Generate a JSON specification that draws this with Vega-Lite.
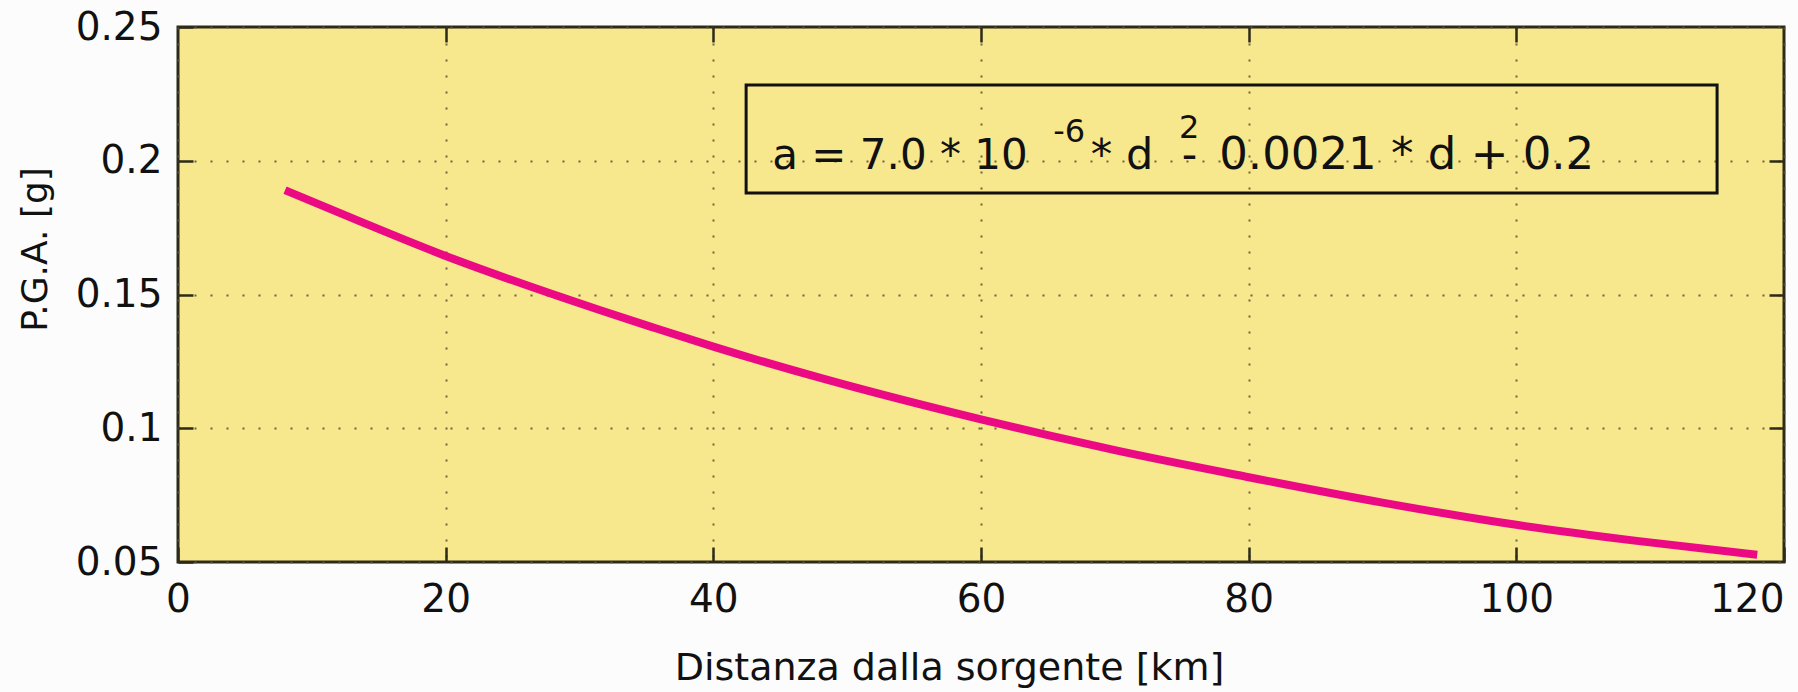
{
  "$schema": "https://vega.github.io/schema/vega-lite/v6.json",
  "width": 1606,
  "height": 535,
  "autosize": "none",
  "padding": {"left": 178, "top": 27, "right": 14, "bottom": 130},
  "background": "#fcfcfc",
  "config": {
    "view": {"fill": "#F7E78D", "stroke": "#2d2a1a", "strokeWidth": 3},
    "axis": {
      "labelFont": "DejaVu Sans",
      "labelFontSize": 39,
      "labelColor": "#111111",
      "titleFont": "DejaVu Sans",
      "titleFontWeight": "normal",
      "titleColor": "#111111",
      "domain": false,
      "tickColor": "#2e2a18",
      "tickWidth": 2.5,
      "tickSize": -15,
      "gridColor": "#5e5638",
      "gridWidth": 2,
      "gridDash": [2, 14],
      "gridOpacity": 0.9
    }
  },
  "data": {
    "values": [
      {"d": 8, "pga": 0.189},
      {"d": 14, "pga": 0.1765},
      {"d": 19.8, "pga": 0.1648},
      {"d": 25, "pga": 0.1553},
      {"d": 31.5, "pga": 0.1442},
      {"d": 35.3, "pga": 0.138},
      {"d": 40, "pga": 0.1305},
      {"d": 48, "pga": 0.1188},
      {"d": 60, "pga": 0.1033},
      {"d": 65, "pga": 0.0974},
      {"d": 70, "pga": 0.0918},
      {"d": 80, "pga": 0.0817},
      {"d": 90, "pga": 0.0722},
      {"d": 100, "pga": 0.0639},
      {"d": 109, "pga": 0.0579},
      {"d": 118, "pga": 0.0527}
    ]
  },
  "resolve": {"axis": {"x": "independent", "y": "independent"}},
  "layer": [
    {
      "mark": {"type": "line", "color": "#EC0A84", "strokeWidth": 8, "interpolate": "monotone", "strokeCap": "butt"},
      "encoding": {
        "x": {
          "field": "d", "type": "quantitative",
          "scale": {"domain": [0, 120], "nice": false, "zero": false},
          "axis": {
            "orient": "bottom",
            "values": [0, 20, 40, 60, 80, 100, 120],
            "grid": true,
            "labelPadding": 33,
            "labelAlign": {"condition": {"test": "datum.value == 120", "value": "right"}, "value": "center"},
            "title": "Distanza dalla sorgente [km]",
            "titleFontSize": 38,
            "titleX": 771,
            "titleY": 106,
            "titleAlign": "center",
            "titleBaseline": "middle"
          }
        },
        "y": {
          "field": "pga", "type": "quantitative",
          "scale": {"domain": [0.05, 0.25], "nice": false, "zero": false},
          "axis": {
            "orient": "left",
            "values": [0.05, 0.1, 0.15, 0.2, 0.25],
            "format": "~g",
            "grid": true,
            "labelPadding": 31,
            "title": "P.G.A. [g]",
            "titleFontSize": 36,
            "titleAngle": -90,
            "titleX": -143,
            "titleY": 222,
            "titleAlign": "center",
            "titleBaseline": "middle"
          }
        }
      }
    },
    {
      "data": {"values": [{}]},
      "mark": {"type": "rect", "fill": null, "fillOpacity": 0, "stroke": "#111111", "strokeWidth": 3},
      "encoding": {
        "x": {"datum": 42.45, "type": "quantitative",
          "axis": {"orient": "top", "values": [20, 40, 60, 80, 100], "labels": false, "grid": false, "title": null, "domain": false}},
        "x2": {"datum": 115.0},
        "y": {"datum": 0.2283, "type": "quantitative",
          "axis": {"orient": "right", "values": [0.1, 0.15, 0.2], "labels": false, "grid": false, "title": null, "domain": false}},
        "y2": {"datum": 0.1879}
      }
    },
    {
      "data": {"values": [{}]},
      "mark": {"type": "text", "text": "a = 7.0 * 10", "align": "left", "baseline": "alphabetic", "font": "DejaVu Sans", "fontSize": 42, "color": "#111111"},
      "encoding": {
        "x": {"datum": 44.4, "type": "quantitative", "axis": null},
        "y": {"datum": 0.1969, "type": "quantitative", "axis": null}
      }
    },
    {
      "data": {"values": [{}]},
      "mark": {"type": "text", "text": "-6", "align": "left", "baseline": "alphabetic", "font": "DejaVu Sans", "fontSize": 32, "color": "#111111"},
      "encoding": {
        "x": {"datum": 65.4, "type": "quantitative", "axis": null},
        "y": {"datum": 0.207, "type": "quantitative", "axis": null}
      }
    },
    {
      "data": {"values": [{}]},
      "mark": {"type": "text", "text": "* d", "align": "left", "baseline": "alphabetic", "font": "DejaVu Sans", "fontSize": 43, "color": "#111111"},
      "encoding": {
        "x": {"datum": 68.2, "type": "quantitative", "axis": null},
        "y": {"datum": 0.1969, "type": "quantitative", "axis": null}
      }
    },
    {
      "data": {"values": [{}]},
      "mark": {"type": "text", "text": "2", "align": "left", "baseline": "alphabetic", "font": "DejaVu Sans", "fontSize": 32, "color": "#111111"},
      "encoding": {
        "x": {"datum": 74.8, "type": "quantitative", "axis": null},
        "y": {"datum": 0.2085, "type": "quantitative", "axis": null}
      }
    },
    {
      "data": {"values": [{}]},
      "mark": {"type": "text", "text": "-", "align": "left", "baseline": "alphabetic", "font": "DejaVu Sans", "fontSize": 43, "color": "#111111"},
      "encoding": {
        "x": {"datum": 75.0, "type": "quantitative", "axis": null},
        "y": {"datum": 0.1969, "type": "quantitative", "axis": null}
      }
    },
    {
      "data": {"values": [{}]},
      "mark": {"type": "text", "text": "0.0021 * d + 0.2", "align": "left", "baseline": "alphabetic", "font": "DejaVu Sans", "fontSize": 45, "color": "#111111"},
      "encoding": {
        "x": {"datum": 77.8, "type": "quantitative", "axis": null},
        "y": {"datum": 0.1969, "type": "quantitative", "axis": null}
      }
    }
  ]
}
